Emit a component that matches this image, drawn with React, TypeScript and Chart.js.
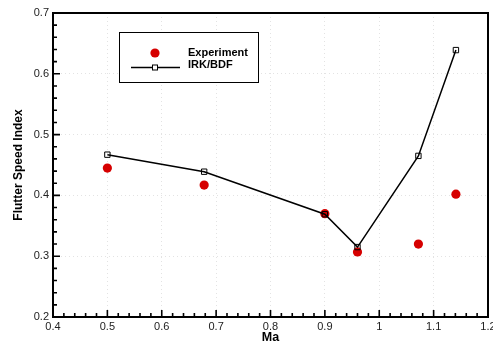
import { useEffect, useRef } from "react";
import { Chart, registerables } from "chart.js";

Chart.register(...registerables);

// Flutter speed index versus Mach number
const machNumbers = [0.5, 0.678, 0.9, 0.96, 1.072, 1.141];
const experimentIndex = [0.445, 0.417, 0.37, 0.307, 0.32, 0.402];
const irkBdfIndex = [0.467, 0.439, 0.369, 0.315, 0.465, 0.639];

const xTickValues = [0.4, 0.5, 0.6, 0.7, 0.8, 0.9, 1.0, 1.1, 1.2];
const xTickLabels = ["0.4", "0.5", "0.6", "0.7", "0.8", "0.9", "1", "1.1", "1.2"];
const yTickValues = [0.2, 0.3, 0.4, 0.5, 0.6, 0.7];
const yTickLabels = ["0.2", "0.3", "0.4", "0.5", "0.6", "0.7"];

const seriesNames = ["Experiment", "IRK/BDF"];

const FONT = "'Liberation Sans', Arial, Helvetica, sans-serif";
const RED = "#d60000";

// Frame around the plot plus inward major/minor ticks on the bottom and left axes
const framePlugin = {
  id: "frameTicks",
  afterDraw(chart: any) {
    const { ctx, chartArea: a, scales } = chart;
    const xs = scales.x;
    const ys = scales.y;
    ctx.save();
    ctx.strokeStyle = "#000";
    ctx.lineWidth = 1.6;
    ctx.beginPath();
    for (let i = 0; i < xTickValues.length; i++) {
      const v = xTickValues[i];
      const px = xs.getPixelForValue(v);
      ctx.moveTo(px, a.bottom);
      ctx.lineTo(px, a.bottom - 7);
      if (i < xTickValues.length - 1) {
        const step = (xTickValues[i + 1] - v) / 5;
        for (let k = 1; k < 5; k++) {
          const mx = xs.getPixelForValue(v + step * k);
          ctx.moveTo(mx, a.bottom);
          ctx.lineTo(mx, a.bottom - 4);
        }
      }
    }
    for (let i = 0; i < yTickValues.length; i++) {
      const v = yTickValues[i];
      const py = ys.getPixelForValue(v);
      ctx.moveTo(a.left, py);
      ctx.lineTo(a.left + 7, py);
      if (i < yTickValues.length - 1) {
        const step = (yTickValues[i + 1] - v) / 5;
        for (let k = 1; k < 5; k++) {
          const my = ys.getPixelForValue(v + step * k);
          ctx.moveTo(a.left, my);
          ctx.lineTo(a.left + 4, my);
        }
      }
    }
    ctx.stroke();
    ctx.lineWidth = 2;
    ctx.strokeRect(a.left, a.top, a.right - a.left, a.bottom - a.top);
    ctx.restore();
  },
};

// Boxed legend in the upper-left part of the plot
const legendPlugin = {
  id: "boxLegend",
  afterDraw(chart: any) {
    const { ctx } = chart;
    const bx = 119.5;
    const by = 32.5;
    const bw = 139;
    const bh = 50;
    ctx.save();
    ctx.fillStyle = "#fff";
    ctx.fillRect(bx, by, bw, bh);
    ctx.strokeStyle = "#000";
    ctx.lineWidth = 1;
    ctx.strokeRect(bx, by, bw, bh);

    ctx.fillStyle = RED;
    ctx.beginPath();
    ctx.arc(155, 53, 4.6, 0, Math.PI * 2);
    ctx.fill();

    ctx.strokeStyle = "#000";
    ctx.lineWidth = 1.5;
    ctx.beginPath();
    ctx.moveTo(131, 67.5);
    ctx.lineTo(180, 67.5);
    ctx.stroke();
    ctx.lineWidth = 1;
    ctx.fillStyle = "#fff";
    ctx.fillRect(152.5, 65, 5, 5);
    ctx.strokeRect(152.5, 65, 5, 5);

    ctx.fillStyle = "#000";
    ctx.font = `bold 11px ${FONT}`;
    ctx.textBaseline = "middle";
    ctx.textAlign = "left";
    ctx.fillText(seriesNames[0], 188, 53);
    ctx.fillText(seriesNames[1], 188, 65);
    ctx.restore();
  },
};

export default function App() {
  const canvasRef = useRef<HTMLCanvasElement | null>(null);

  useEffect(() => {
    document.body.style.margin = "0";
    const canvas = canvasRef.current;
    if (!canvas) return;

    const chart = new Chart(canvas, {
      type: "scatter",
      data: {
        datasets: [
          {
            label: seriesNames[1],
            data: machNumbers.map((x, i) => ({ x, y: irkBdfIndex[i] })),
            showLine: true,
            borderColor: "#000",
            borderWidth: 1.5,
            pointStyle: "rect",
            pointRadius: 3.8,
            pointBorderWidth: 1,
            pointBorderColor: "#000",
            pointBackgroundColor: "rgba(0,0,0,0)",
            order: 0,
          },
          {
            label: seriesNames[0],
            data: machNumbers.map((x, i) => ({ x, y: experimentIndex[i] })),
            showLine: false,
            pointStyle: "circle",
            pointRadius: 4.6,
            pointBorderWidth: 0,
            pointBackgroundColor: RED,
            backgroundColor: RED,
            borderColor: RED,
            order: 1,
          },
        ],
      },
      options: {
        animation: false,
        responsive: false,
        maintainAspectRatio: false,
        layout: { padding: { top: 13, right: 5, left: 0, bottom: 0 } },
        plugins: {
          legend: { display: false },
          tooltip: { enabled: false },
        },
        scales: {
          x: {
            type: "linear",
            min: 0.4,
            max: 1.2,
            afterBuildTicks: (s: any) => {
              s.ticks = xTickValues.map((value) => ({ value }));
            },
            afterFit: (s: any) => {
              s.height = 28;
              s.paddingLeft = 0;
              s.paddingRight = 0;
            },
            grid: {
              drawTicks: false,
              color: "rgba(0,0,0,0.11)",
              lineWidth: 1,
            },
            border: { display: false, dash: [1, 3] },
            ticks: {
              autoSkip: false,
              maxRotation: 0,
              padding: 3,
              color: "#222",
              font: { family: FONT, size: 11 },
              callback: (_v: any, i: number) => xTickLabels[i],
            },
            title: {
              display: true,
              text: "Ma",
              color: "#000",
              font: { family: FONT, size: 12.5, weight: "bold" },
              padding: { top: 0, bottom: 0 },
            },
          },
          y: {
            type: "linear",
            min: 0.2,
            max: 0.7,
            afterBuildTicks: (s: any) => {
              s.ticks = yTickValues.map((value) => ({ value }));
            },
            afterFit: (s: any) => {
              s.width = 53;
              s.paddingTop = 0;
              s.paddingBottom = 0;
            },
            grid: {
              drawTicks: false,
              color: "rgba(0,0,0,0.11)",
              lineWidth: 1,
            },
            border: { display: false, dash: [1, 3] },
            ticks: {
              autoSkip: false,
              padding: 4,
              color: "#222",
              font: { family: FONT, size: 11 },
              callback: (_v: any, i: number) => yTickLabels[i],
            },
            title: {
              display: true,
              text: "Flutter Speed Index",
              color: "#000",
              font: { family: FONT, size: 12, weight: "bold" },
              padding: { top: 11, bottom: 0 },
            },
          },
        },
      },
      plugins: [framePlugin, legendPlugin],
    } as any);

    return () => chart.destroy();
  }, []);

  return (
    <div style={{ position: "absolute", left: 0, top: 0, width: 493, height: 345, background: "#fff" }}>
      <canvas ref={canvasRef} width={493} height={345} />
    </div>
  );
}
